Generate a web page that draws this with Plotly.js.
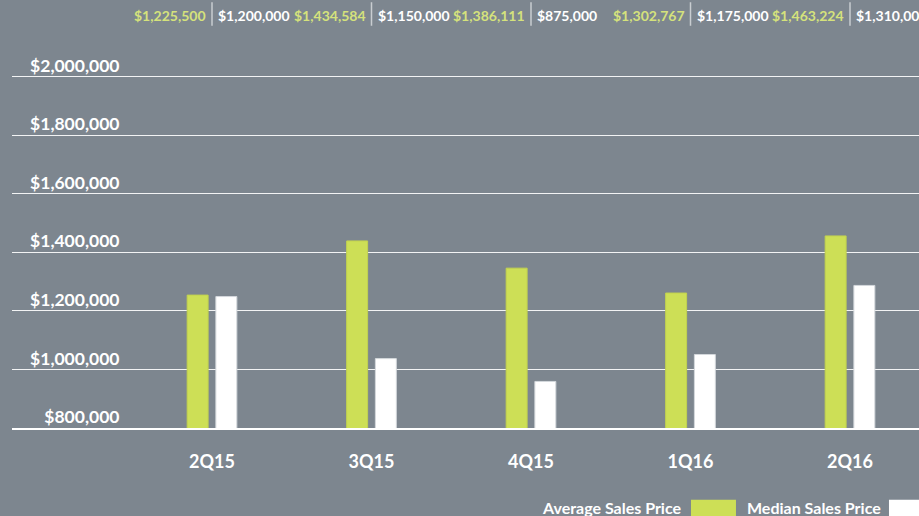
<!DOCTYPE html>
<html>
<head>
<meta charset="utf-8">
<script src="https://cdn.plot.ly/plotly-3.0.1.min.js"></script>
<style>
html,body{margin:0;padding:0;background:#7d868f;overflow:hidden;}
#chart{width:919px;height:516px;}
</style>
</head>
<body>
<div id="chart"></div>
<script>
// ---- data ----
var quarters = ['2Q15', '3Q15', '4Q15', '1Q16', '2Q16'];
var avgPrice = [1254000, 1439000, 1346000, 1261000, 1456000];
var medianPrice = [1249000, 1037000, 959000, 1051000, 1287000];
var avgLabels = ['$1,225,500', '$1,434,584', '$1,386,111', '$1,302,767', '$1,463,224'];
var medLabels = ['$1,200,000', '$1,150,000', '$875,000', '$1,175,000', '$1,310,000'];
var yTicks = [800000, 1000000, 1200000, 1400000, 1600000, 1800000, 2000000];
var seriesNames = ['Average Sales Price', 'Median Sales Price'];

var BG = '#7d868f';
var GREEN = '#cddf56';
var LIME_TEXT = '#d5e27c';
var FONT = 'Lato, "Open Sans", sans-serif';

var traces = [
  {type: 'bar', x: quarters, y: avgPrice, name: seriesNames[0],
   marker: {color: GREEN, line: {color: '#c2d24e', width: 1}}, hoverinfo: 'y'},
  {type: 'bar', x: quarters, y: medianPrice, name: seriesNames[1],
   marker: {color: '#ffffff', line: {color: '#d4d8dc', width: 1}}, hoverinfo: 'y'}
];

var annotations = [];
var shapes = [];
var topY = 1.122;
for (var i = 0; i < quarters.length; i++) {
  annotations.push({xref: 'x', yref: 'paper', x: i, y: topY, xanchor: 'right', yanchor: 'middle',
    xshift: -4, text: avgLabels[i], showarrow: false,
    font: {family: FONT, size: 14, color: LIME_TEXT, weight: 700}});
  annotations.push({xref: 'x', yref: 'paper', x: i, y: topY, xanchor: 'left', yanchor: 'middle',
    xshift: 4, text: medLabels[i], showarrow: false,
    font: {family: FONT, size: 14, color: '#ffffff', weight: 700}});
  shapes.push({type: 'line', xref: 'x', yref: 'paper', x0: i, x1: i, y0: 1.093, y1: 1.157,
    line: {color: '#c9cdd1', width: 1.5}});
}

// custom legend (text followed by swatch)
annotations.push({xref: 'paper', yref: 'paper', x: 0.7409, y: -0.2164, xanchor: 'right', yanchor: 'middle',
  text: seriesNames[0], showarrow: false, font: {family: FONT, size: 16, color: '#ffffff', weight: 700}});
annotations.push({xref: 'paper', yref: 'paper', x: 0.960, y: -0.2164, xanchor: 'right', yanchor: 'middle',
  text: seriesNames[1], showarrow: false, font: {family: FONT, size: 16, color: '#ffffff', weight: 700}});
shapes.push({type: 'rect', xref: 'paper', yref: 'paper', x0: 0.7486, x1: 0.7982, y0: -0.1947, y1: -0.26,
  fillcolor: GREEN, line: {width: 0}});
shapes.push({type: 'rect', xref: 'paper', yref: 'paper', x0: 0.9669, x1: 1.03, y0: -0.1947, y1: -0.26,
  fillcolor: '#ffffff', line: {width: 0}});

var layout = {
  width: 919, height: 516,
  paper_bgcolor: BG, plot_bgcolor: BG,
  margin: {l: 12, r: 0, t: 60, b: 87.7, pad: 0},
  showlegend: false,
  barmode: 'group', bargap: 0.64, bargroupgap: 0.27,
  font: {family: FONT, color: '#ffffff'},
  xaxis: {
    type: 'category', range: [-1.2539, 4.4326], fixedrange: true,
    showgrid: false, zeroline: false, showline: true, linecolor: '#ffffff', linewidth: 1.5,
    ticks: '', ticklabelstandoff: 17,
    tickfont: {family: FONT, size: 18, color: '#ffffff', weight: 700}
  },
  yaxis: {
    range: [800000, 2057000], fixedrange: true,
    anchor: 'free', position: 0.1185,
    tickvals: yTicks, tickformat: '$,.0f',
    showgrid: true, gridcolor: '#f2f3f4', gridwidth: 1,
    zeroline: false, showline: false, ticks: '',
    ticklabelshift: -11, ticklabelstandoff: 0,
    tickfont: {family: FONT, size: 17.5, color: '#ffffff', weight: 700}
  },
  annotations: annotations,
  shapes: shapes
};

Plotly.newPlot('chart', traces, layout, {displayModeBar: false, staticPlot: true});
</script>
</body>
</html>
